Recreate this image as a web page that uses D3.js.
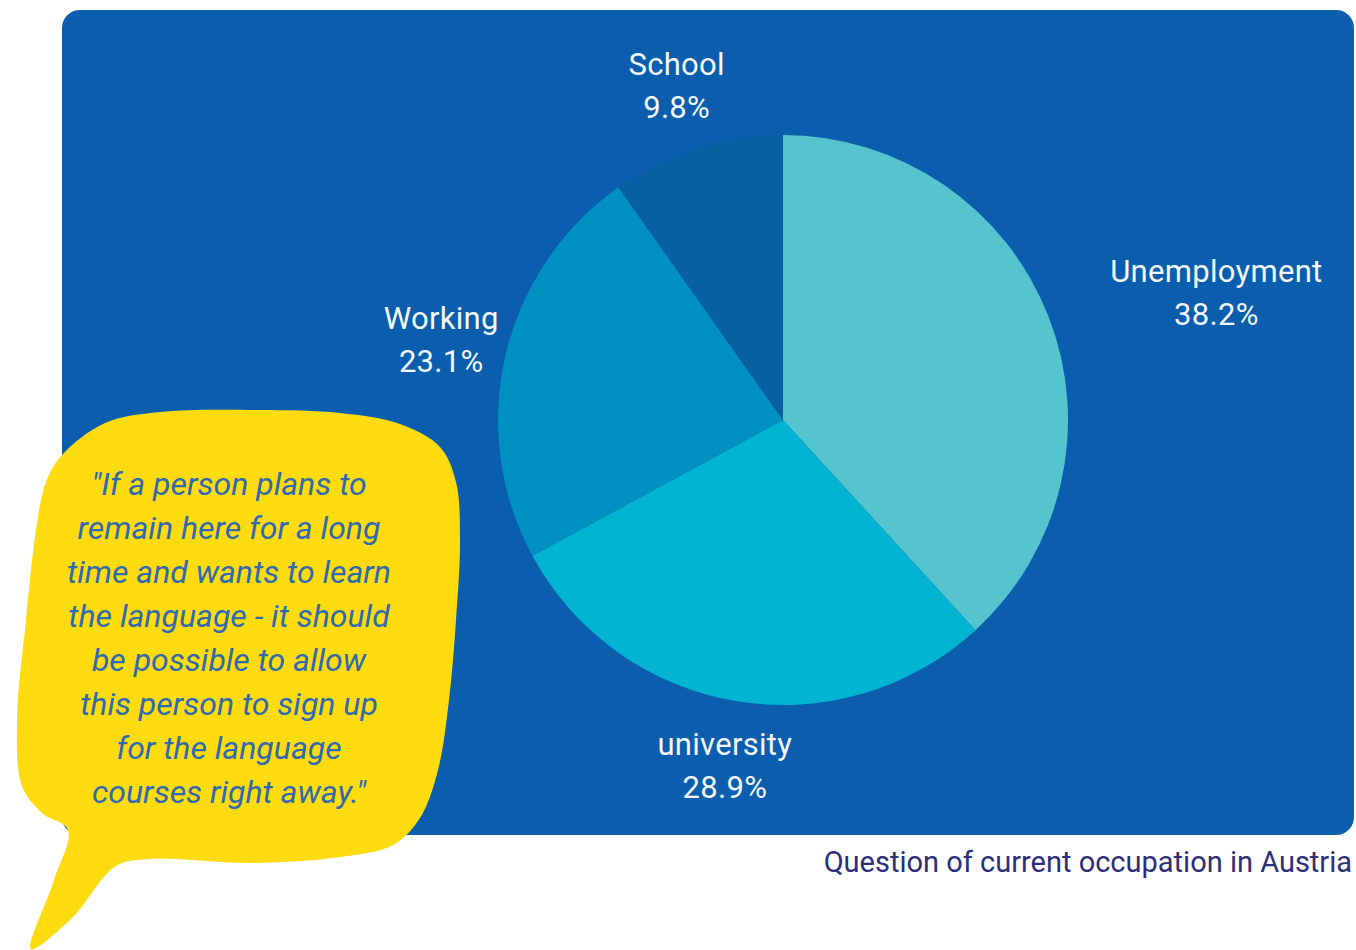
<!DOCTYPE html>
<html>
<head>
<meta charset="utf-8">
<script src="https://cdn.jsdelivr.net/npm/d3@7"></script>
<style>
  html, body { margin: 0; padding: 0; background: #fff; }
  svg { display: block; font-family: Roboto, "Noto Sans", sans-serif; }
</style>
</head>
<body>
<svg id="chart" width="1356" height="950"></svg>
<script>
// occupation shares (percent), clockwise from 12 o'clock
const categories = ["Unemployment", "university", "Working", "School"];
const shares = [38.2, 28.9, 23.1, 9.8];
const sliceColors = ["#55c4ce", "#00b4d2", "#0090c2", "#0660a2"];

const quoteLines = [
  "\"If a person plans to",
  "remain here for a long",
  "time and wants to learn",
  "the language - it should",
  "be possible to allow",
  "this person to sign up",
  "for the language",
  "courses right away.\""
];
const caption = "Question of current occupation in Austria";

const svg = d3.select("#chart");

// blue card
svg.append("rect")
  .attr("x", 62).attr("y", 10)
  .attr("width", 1292).attr("height", 825)
  .attr("rx", 18)
  .attr("fill", "#0a5ead");

// pie
const cx = 783, cy = 420, radius = 285, labelR = 351;

const data = categories.map((c, i) => ({ name: c, value: shares[i], color: sliceColors[i] }));

const pie = d3.pie().value(d => d.value).sort(null);
const arc = d3.arc().innerRadius(0).outerRadius(radius);
const labelArc = d3.arc().innerRadius(labelR).outerRadius(labelR);

const g = svg.append("g").attr("transform", `translate(${cx},${cy})`);
const arcs = pie(data);

g.selectAll("path.slice")
  .data(arcs)
  .join("path")
  .attr("class", "slice")
  .attr("d", arc)
  .attr("fill", d => d.data.color);

// labels: name + percent, pushed sideways if they would sit on the pie
g.selectAll("text.lbl")
  .data(arcs)
  .join("text")
  .attr("class", "lbl")
  .attr("fill", "#f4f7fb")
  .attr("font-size", 31)
  .attr("letter-spacing", 0.3)
  .attr("text-anchor", "middle")
  .each(function(d) {
    const [x, y] = labelArc.centroid(d);
    const t = d3.select(this);
    const l1 = t.append("tspan").attr("x", x).attr("y", y - 11).text(d.data.name);
    const l2 = t.append("tspan").attr("x", x).attr("y", y + 32).text(d.data.value.toFixed(1) + "%");
    const b = this.getBBox();
    const nx = Math.max(b.x, Math.min(0, b.x + b.width));
    const ny = Math.max(b.y, Math.min(0, b.y + b.height));
    if (Math.hypot(nx, ny) < radius - 15) {
      const mid = (d.startAngle + d.endAngle) / 2;
      const shift = (Math.sin(mid) > 0 ? 1 : -1) * b.width / 2;
      l1.attr("x", x + shift);
      l2.attr("x", x + shift);
    }
  });

// speech bubble
const bubblePts = [
  [62, 455], [105, 423], [160, 412], [260, 410], [340, 413], [400, 424],
  [440, 447], [456, 482], [460, 540], [456, 620], [449, 700], [438, 770],
  [420, 818], [393, 845], [340, 857], [250, 863], [150, 859], [116, 866],
  [72, 918], [31, 949], [54, 880], [68, 830], [42, 813], [22, 786],
  [17, 720], [26, 620], [36, 530], [46, 482]
];
svg.append("path")
  .attr("d", d3.line().curve(d3.curveCatmullRomClosed.alpha(0.5))(bubblePts))
  .attr("fill", "#fedb0f");

svg.append("text")
  .attr("text-anchor", "middle")
  .attr("font-size", 32)
  .attr("font-style", "italic")
  .attr("fill", "#2f6aae")
  .selectAll("tspan")
  .data(quoteLines)
  .join("tspan")
  .attr("x", 229)
  .attr("y", (d, i) => 495 + i * 44)
  .text(d => d);

// caption
svg.append("text")
  .attr("x", 1352).attr("y", 872)
  .attr("text-anchor", "end")
  .attr("font-size", 29)
  .attr("fill", "#2b2e7a")
  .text(caption);
</script>
</body>
</html>
